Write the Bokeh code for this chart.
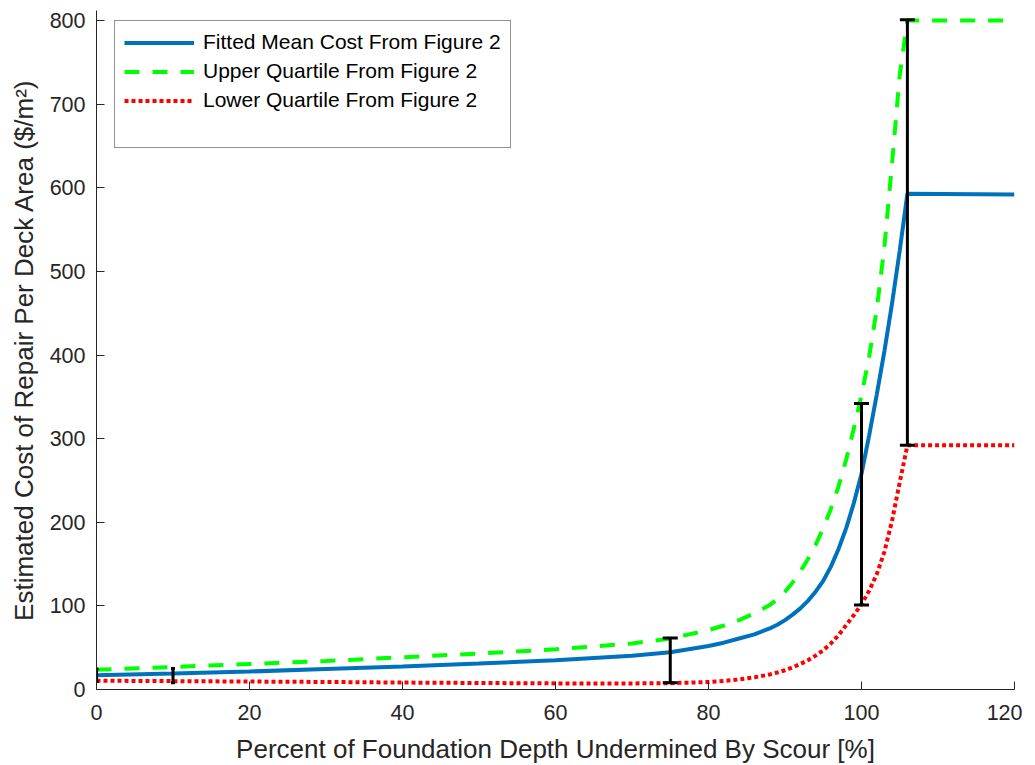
from bokeh.plotting import figure
from bokeh.models import ColumnDataSource, Whisker, TeeHead, FixedTicker, Legend, LegendItem
from bokeh.embed import file_html
from bokeh.resources import INLINE

# ---- data ----
x_curve = [0, 10, 20, 30, 40, 50, 60, 70, 75, 80, 82, 84, 86, 88, 89, 90, 91, 92, 93, 94, 95, 96, 97, 98, 99, 100,
           101, 102, 103, 104, 105, 106, 120]
mean_cost = [17, 19, 21.5, 24.5, 27.5, 31, 35, 40.5, 44.5, 52, 56, 61, 66, 73, 77.5, 83, 89.5, 97, 106, 117, 130, 147, 168, 193, 223, 258,
             304, 353, 405, 462, 525, 593, 592]
upper_q = [23.5, 27, 30.5, 34, 38.5, 43, 48, 55, 61, 71, 76.5, 83, 91, 101, 108, 117, 128, 141, 156, 173, 193, 216, 243, 275, 312, 352,
           398, 455, 530, 630, 735, 800, 800]
lower_q = [10.5, 10, 9.5, 9, 8.3, 7.8, 7.3, 7.3, 7.5, 9, 10.3, 12, 14.5, 18, 20.3, 23, 26.5, 30.5, 35, 40.5, 47, 55, 65, 77, 89, 102,
           118, 138, 165, 202, 248, 292, 292]

err_x = [0, 10, 75, 100, 106]
err_low = [9.5, 8, 8, 101, 292]
err_high = [24.5, 25, 61.5, 342, 801]

x_ticks = [0, 20, 40, 60, 80, 100, 120]
y_ticks = [0, 100, 200, 300, 400, 500, 600, 700, 800]

labels = ["Fitted Mean Cost From Figure 2", "Upper Quartile From Figure 2", "Lower Quartile From Figure 2"]

FONT = "Liberation Sans"
AX = "#262626"

p = figure(frame_width=918, frame_height=679, x_range=(0, 120), y_range=(0, 812),
           output_backend="svg", toolbar_location=None,
           min_border_left=96, min_border_right=8, min_border_top=10, min_border_bottom=60)
p.outline_line_color = None
p.xgrid.visible = False
p.ygrid.visible = False
p.background_fill_color = "white"

src = ColumnDataSource(dict(x=x_curve, m=mean_cost, u=upper_q, l=lower_q))
r_m = p.line("x", "m", source=src, line_color="#0072BD", line_width=4)
r_u = p.line("x", "u", source=src, line_color="#00FF00", line_width=4, line_dash="15 13")
r_l = p.line("x", "l", source=src, line_color="#FF0000", line_width=4, line_dash="4 3")
r_blank = p.line([0, 1], [0, 0], line_alpha=0)

esrc_big = ColumnDataSource(dict(x=err_x[2:], lo=err_low[2:], hi=err_high[2:]))
esrc_small = ColumnDataSource(dict(x=err_x[:2], lo=err_low[:2], hi=err_high[:2]))
for s, hs in ((esrc_big, 15), (esrc_small, 4)):
    w = Whisker(base="x", lower="lo", upper="hi", source=s, dimension="height",
                line_color="black", line_width=3, level="glyph",
                upper_head=TeeHead(size=hs, line_width=3, line_color="black"),
                lower_head=TeeHead(size=hs, line_width=3, line_color="black"))
    p.add_layout(w)

for ax in (p.xaxis[0], p.yaxis[0]):
    ax.axis_line_color = AX
    ax.major_tick_line_color = AX
    ax.major_tick_in = 8
    ax.major_tick_out = 0
    ax.minor_tick_line_color = None
    ax.major_label_text_font = FONT
    ax.major_label_text_font_size = "21.5px"
    ax.major_label_text_color = AX
    ax.axis_label_text_font = FONT
    ax.axis_label_text_font_size = "26px"
    ax.axis_label_text_font_style = "normal"
    ax.axis_label_text_color = AX

p.xaxis.ticker = FixedTicker(ticks=x_ticks)
p.yaxis.ticker = FixedTicker(ticks=y_ticks)
p.xaxis.axis_label = "Percent of Foundation Depth Undermined By Scour [%]"
p.yaxis.axis_label = "Estimated Cost of Repair Per Deck Area ($/m\u00b2)"
p.xaxis.major_label_standoff = 15
p.yaxis.major_label_standoff = 11
p.xaxis.axis_label_standoff = 11
p.yaxis.axis_label_standoff = 8

legend = Legend(items=[LegendItem(label=labels[0], renderers=[r_m]),
                       LegendItem(label=labels[1], renderers=[r_u]),
                       LegendItem(label=labels[2], renderers=[r_l]),
                       LegendItem(label=" ", renderers=[r_blank])],
                location=(18, 541))
legend.margin = 0
legend.padding = 9
legend.spacing = 5
legend.glyph_width = 70
legend.glyph_height = 21
legend.label_height = 21
legend.label_standoff = 9
legend.label_text_font = FONT
legend.label_text_font_size = "21px"
legend.label_text_color = "black"
legend.border_line_color = AX
legend.border_line_width = 1
legend.background_fill_alpha = 1
p.add_layout(legend)

open("out.html", "w").write(file_html(p, INLINE))
